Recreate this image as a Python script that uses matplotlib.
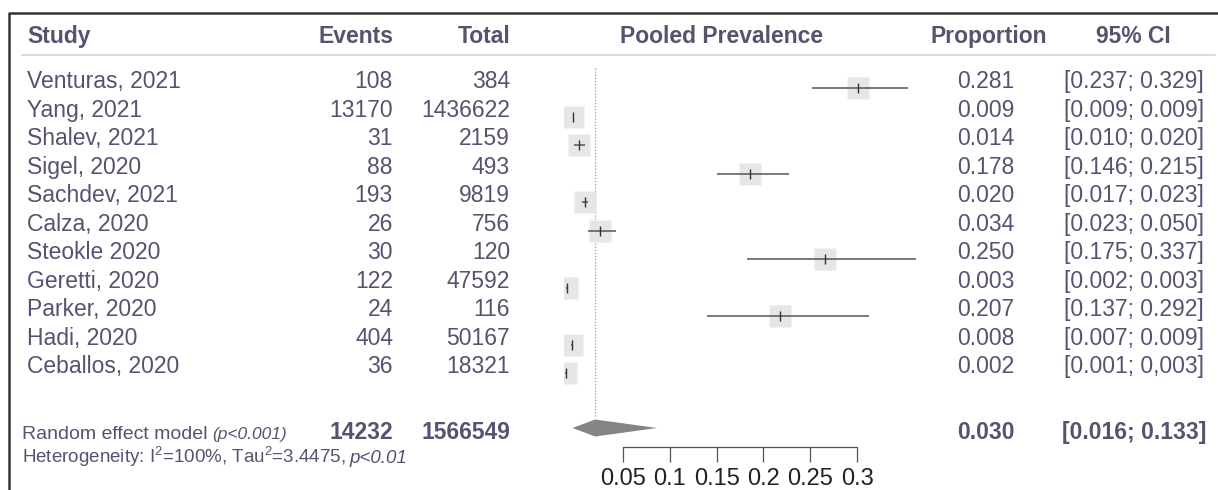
import matplotlib

matplotlib.use("Agg")
import matplotlib.pyplot as plt  # noqa: E402
from matplotlib.patches import Polygon  # noqa: E402

# data
studies = ["Venturas, 2021", "Yang, 2021", "Shalev, 2021", "Sigel, 2020", "Sachdev, 2021",
           "Calza, 2020", "Steokle 2020", "Geretti, 2020", "Parker, 2020", "Hadi, 2020",
           "Ceballos, 2020"]
events = [108, 13170, 31, 88, 193, 26, 30, 122, 24, 404, 36]
totals = [384, 1436622, 2159, 493, 9819, 756, 120, 47592, 116, 50167, 18321]
prop = [0.281, 0.009, 0.014, 0.178, 0.020, 0.034, 0.250, 0.003, 0.207, 0.008, 0.002]
ci_lo = [0.237, 0.009, 0.010, 0.146, 0.017, 0.023, 0.175, 0.002, 0.137, 0.007, 0.001]
ci_hi = [0.329, 0.009, 0.020, 0.215, 0.023, 0.050, 0.337, 0.003, 0.292, 0.009, 0.003]
ci_labels = ["[0.237; 0.329]", "[0.009; 0.009]", "[0.010; 0.020]", "[0.146; 0.215]",
             "[0.017; 0.023]", "[0.023; 0.050]", "[0.175; 0.337]", "[0.002; 0.003]",
             "[0.137; 0.292]", "[0.007; 0.009]", "[0.001; 0,003]"]
pooled_events, pooled_total = 14232, 1566549
pooled = 0.030
pooled_label = "[0.016; 0.133]"
diamond_drawn = [0.008, 0.030, 0.089]  # left tip, centre, right tip as drawn
scale_ticks = [0.05, 0.1, 0.15, 0.2, 0.25, 0.3]
scale_labels = ["0.05", "0.1", "0.15", "0.2", "0.25", "0.3"]

W, H = 1218, 490
TXT = "#55536f"
plt.rcParams["font.family"] = ["Liberation Sans", "DejaVu Sans"]


def row(py):
    # figure pixel y (from top) -> row units
    return (py - 88.4) / 28.5


fig = plt.figure(figsize=(W / 100, H / 100), dpi=100)
tab = fig.add_axes([0, 0, 1, 1])
tab.set_xlim(0, W)
tab.set_ylim(row(H), row(0))
tab.axis("off")


def italic_after(t, s, size, gap=4):
    # put italic text right after text t, on the same baseline
    fig.canvas.draw()
    bb = t.get_window_extent()
    x1 = tab.transData.inverted().transform((bb.x1, bb.y0))[0]
    tab.text(x1 + gap, t.get_position()[1], s, ha="left", va="baseline",
             fontsize=size, style="italic", color=TXT)


# frame and header rule
tab.plot([9, 9, W], [row(H), row(13), row(13)], color="#333333", lw=1.8, solid_capstyle="butt")
tab.plot([22, 1215], [row(55), row(55)], color="#d4d4d4", lw=1.2)

fs = 16.5
hy = row(43)
tab.text(27, hy, "Study", ha="left", va="baseline", fontsize=fs, weight="bold", color=TXT)
tab.text(393, hy, "Events", ha="right", va="baseline", fontsize=fs, weight="bold", color=TXT)
tab.text(510, hy, "Total", ha="right", va="baseline", fontsize=fs, weight="bold", color=TXT)
tab.text(722, hy, "Pooled Prevalence", ha="center", va="baseline", fontsize=fs, weight="bold", color=TXT)
tab.text(989, hy, "Proportion", ha="center", va="baseline", fontsize=fs, weight="bold", color=TXT)
tab.text(1133, hy, "95% CI", ha="center", va="baseline", fontsize=fs, weight="bold", color=TXT)

for i, s in enumerate(studies):
    tab.text(27, i, s, ha="left", va="baseline", fontsize=fs, color=TXT)
    tab.text(393, i, str(events[i]), ha="right", va="baseline", fontsize=fs, color=TXT)
    tab.text(510, i, str(totals[i]), ha="right", va="baseline", fontsize=fs, color=TXT)
    tab.text(1014, i, f"{prop[i]:.3f}", ha="right", va="baseline", fontsize=fs, color=TXT)
    tab.text(1134, i, ci_labels[i], ha="center", va="baseline", fontsize=fs, color=TXT)

# pooled row
ry = row(439)
t = tab.text(22, ry, "Random effect model", ha="left", va="baseline", fontsize=14, color=TXT)
italic_after(t, "(p<0.001)", 12.5, gap=5)
tab.text(393, ry, str(pooled_events), ha="right", va="baseline", fontsize=fs, weight="bold", color=TXT)
tab.text(510, ry, str(pooled_total), ha="right", va="baseline", fontsize=fs, weight="bold", color=TXT)
tab.text(1015, ry, f"{pooled:.3f}", ha="right", va="baseline", fontsize=fs, weight="bold", color=TXT)
tab.text(1134, ry, pooled_label, ha="center", va="baseline", fontsize=fs, weight="bold", color=TXT)

hy2 = row(463)
t2 = tab.text(22, hy2, r"Heterogeneity: I$\mathregular{^2}$=100%, Tau$\mathregular{^2}$=3.4475,",
              ha="left", va="baseline", fontsize=13.5, color=TXT)
italic_after(t2, "p<0.01", 13.5, gap=4)

# forest panel
fa = fig.add_axes([564 / W, 0, 1045 * 0.35 / W, 1])
fa.set_xlim(0, 0.35)
fa.set_ylim(row(H), row(0))
fa.axis("off")
ys = list(range(len(studies)))
fa.plot([pooled, pooled], [row(68), row(417)], color="#9a9a9a", lw=0.9, ls=(0, (1, 1.5)))
fa.plot(prop, ys, "s", ms=16.5, color="#e6e6e6", mec="none", zorder=2)
fa.hlines(ys, ci_lo, ci_hi, color="#555555", lw=1.1, zorder=3)
fa.plot(prop, ys, "|", ms=7, mew=1.0, color="#333333", zorder=4)
dy = row(428)
h = 8.5 / 28.5
lo, mid, hi = diamond_drawn
fa.add_patch(Polygon([(lo, dy), (mid, dy - h), (hi, dy), (mid, dy + h)],
                     closed=True, facecolor="#858585", edgecolor="none"))

# scale bar
sa = fig.add_axes([576.2 / W, (H - 447) / H, 936 * 0.35 / W, 0.02])
sa.set_xlim(0, 0.35)
sa.patch.set_visible(False)
for side in ("top", "left", "right"):
    sa.spines[side].set_visible(False)
sa.spines["bottom"].set_bounds(scale_ticks[0], scale_ticks[-1])
sa.spines["bottom"].set_color("#555555")
sa.spines["bottom"].set_linewidth(0.9)
sa.set_yticks([])
sa.set_xticks(scale_ticks)
sa.set_xticklabels(scale_labels)
sa.tick_params(axis="x", direction="out", length=10.8, width=0.9, color="#555555",
               labelsize=17, labelcolor="#222222", pad=4)

fig.savefig("out.png", dpi=100)
